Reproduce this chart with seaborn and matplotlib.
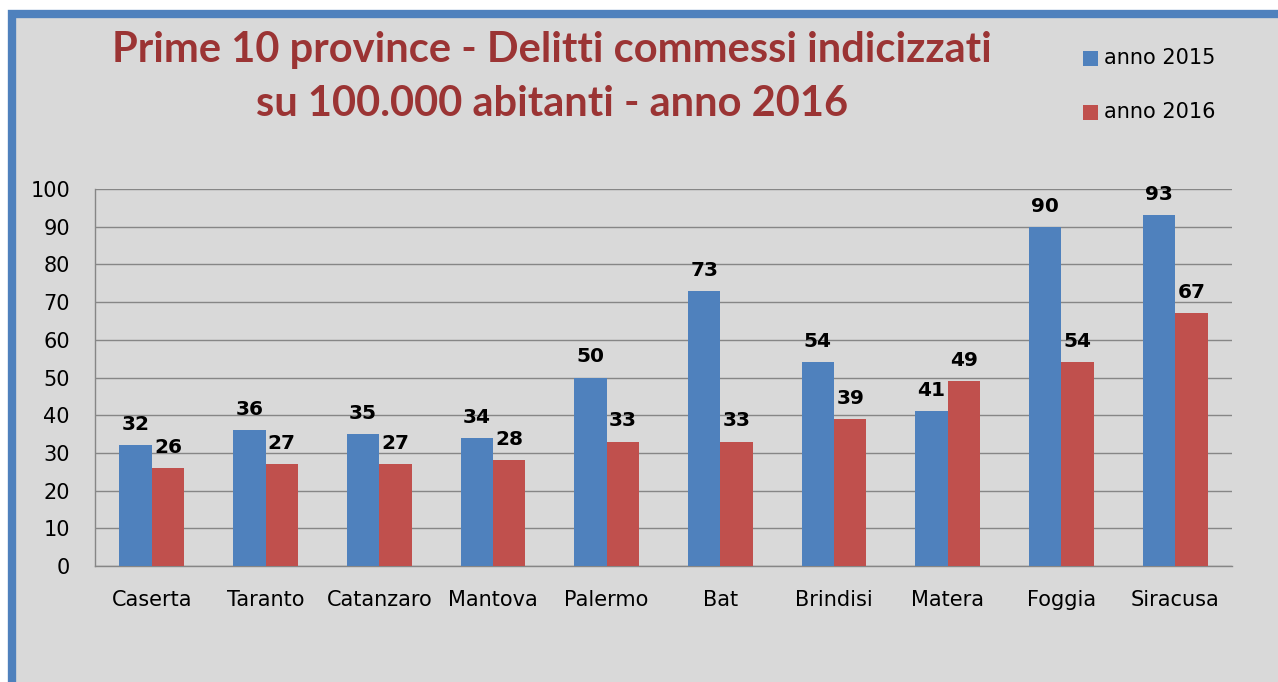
import matplotlib
matplotlib.use("Agg")
import matplotlib.pyplot as plt
import pandas as pd
import seaborn as sns
from matplotlib.patches import Rectangle

# dati
province = ['Caserta', 'Taranto', 'Catanzaro', 'Mantova', 'Palermo',
            'Bat', 'Brindisi', 'Matera', 'Foggia', 'Siracusa']
anno_2015 = [32, 36, 35, 34, 50, 73, 54, 41, 90, 93]
anno_2016 = [26, 27, 27, 28, 33, 33, 39, 49, 54, 67]
serie = ['anno 2015', 'anno 2016']
colori = ['#4f81bd', '#c0504d']
yticks = list(range(0, 101, 10))

df = pd.DataFrame({
    'provincia': province * 2,
    'valore': anno_2015 + anno_2016,
    'anno': [serie[0]] * len(province) + [serie[1]] * len(province),
})

sns.set_style('white')
plt.rcParams['font.family'] = ['DejaVu Sans']

W, H = 1278, 682
fig = plt.figure(figsize=(W / 100, H / 100), dpi=100, facecolor='white')

# sfondo grigio con bordo blu (solo sinistra e sopra visibili)
bg = Rectangle((12 / W, -0.5), 2, 1.5 - 14 / H, transform=fig.transFigure,
               facecolor='#d9d9d9', edgecolor='#4f81bd', linewidth=6, zorder=-10)
fig.patches.append(bg)

ax = fig.add_axes([95 / W, 1 - 566 / H, (1232 - 95) / W, (566 - 189) / H])
ax.set_facecolor('#d9d9d9')

sns.barplot(data=df, x='provincia', y='valore', hue='anno', palette=colori,
            width=0.57, gap=0, saturation=1, linewidth=0, edgecolor='none',
            ax=ax, legend=False, zorder=3)

for cont in ax.containers:
    ax.bar_label(cont, fmt='%d', padding=8, fontsize=14.5, fontweight='bold', color='black')

ax.set_ylim(0, 100)
ax.set_yticks(yticks)
ax.set_xlim(-0.5, len(province) - 0.5)
ax.yaxis.grid(True, color='#868686', linewidth=1)
ax.set_axisbelow(True)
for s in ['top', 'right']:
    ax.spines[s].set_visible(False)
for s in ['left', 'bottom']:
    ax.spines[s].set_color('#868686')
    ax.spines[s].set_linewidth(1)
ax.tick_params(axis='y', length=0, pad=18, labelsize=15, labelcolor='black')
ax.tick_params(axis='x', length=0, pad=17, labelsize=15, labelcolor='black')
ax.set_xlabel('')
ax.set_ylabel('')

fig.text(552 / W, 1 - 77 / H, 'Prime 10 province - Delitti commessi indicizzati\nsu 100.000 abitanti - anno 2016',
         ha='center', va='center', fontsize=30, fontweight='bold', color='#9b3434',
         family='Lato', linespacing=1.5)

# legenda
for i, (nome, col) in enumerate(zip(serie, colori)):
    y = 1 - (58 + i * 54) / H
    fig.patches.append(Rectangle((1083 / W, y - 7.5 / H), 15 / W, 15 / H,
                                 transform=fig.transFigure, facecolor=col, edgecolor='none'))
    fig.text(1104 / W, y, nome, ha='left', va='center', fontsize=15, color='black')

fig.savefig('out.png', dpi=100, facecolor=fig.get_facecolor())
